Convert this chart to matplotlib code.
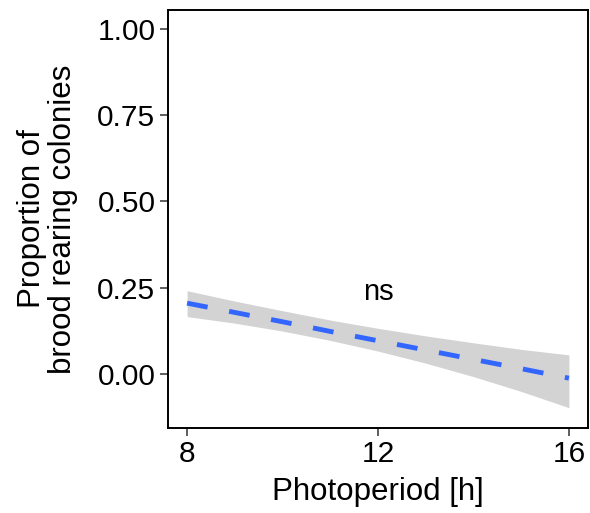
import matplotlib
matplotlib.use("Agg")
import matplotlib.pyplot as plt
import numpy as np

plt.rcParams['font.family'] = ['Liberation Sans', 'DejaVu Sans']

# fitted proportion and confidence band over photoperiod
photoperiod = [8, 9, 10, 11, 12, 13, 14, 15, 16]
fit = [0.205, 0.178, 0.151, 0.123, 0.096, 0.069, 0.042, 0.015, -0.0125]
ci_low = [0.166, 0.147, 0.124, 0.097, 0.066, 0.031, -0.008, -0.051, -0.098]
ci_high = [0.241, 0.211, 0.183, 0.156, 0.132, 0.110, 0.090, 0.071, 0.055]

xticks = [8, 12, 16]
yticks = [0.00, 0.25, 0.50, 0.75, 1.00]

fig = plt.figure(figsize=(5.9, 5.13), dpi=100)
ax = fig.add_axes([168 / 590, 85 / 513, 420 / 590, 418 / 513])

ax.fill_between(photoperiod, ci_low, ci_high, color='#d3d3d3', linewidth=0)
ax.plot(photoperiod, fit, color='#3366ff', linewidth=3.5, linestyle=(0, (4.3, 4.5)))
ax.text(12, 0.237, 'ns', ha='center', va='center', fontsize=21)

ax.set_xlim(7.6, 16.4)
ax.set_ylim(-0.157, 1.055)
ax.set_xticks(xticks)
ax.set_xticklabels([str(v) for v in xticks])
ax.set_yticks(yticks)
ax.set_yticklabels([f'{v:.2f}' for v in yticks])
ax.tick_params(labelsize=21.5, length=6, width=1.1, color='#333333', pad=3)

for s in ax.spines.values():
    s.set_linewidth(1.4)
    s.set_color('black')

ax.set_xlabel('Photoperiod [h]', fontsize=22.5, labelpad=6)
ax.set_ylabel('Proportion of\nbrood rearing colonies', fontsize=22.5, labelpad=14, linespacing=1.05)

fig.savefig('out.png', dpi=100)
